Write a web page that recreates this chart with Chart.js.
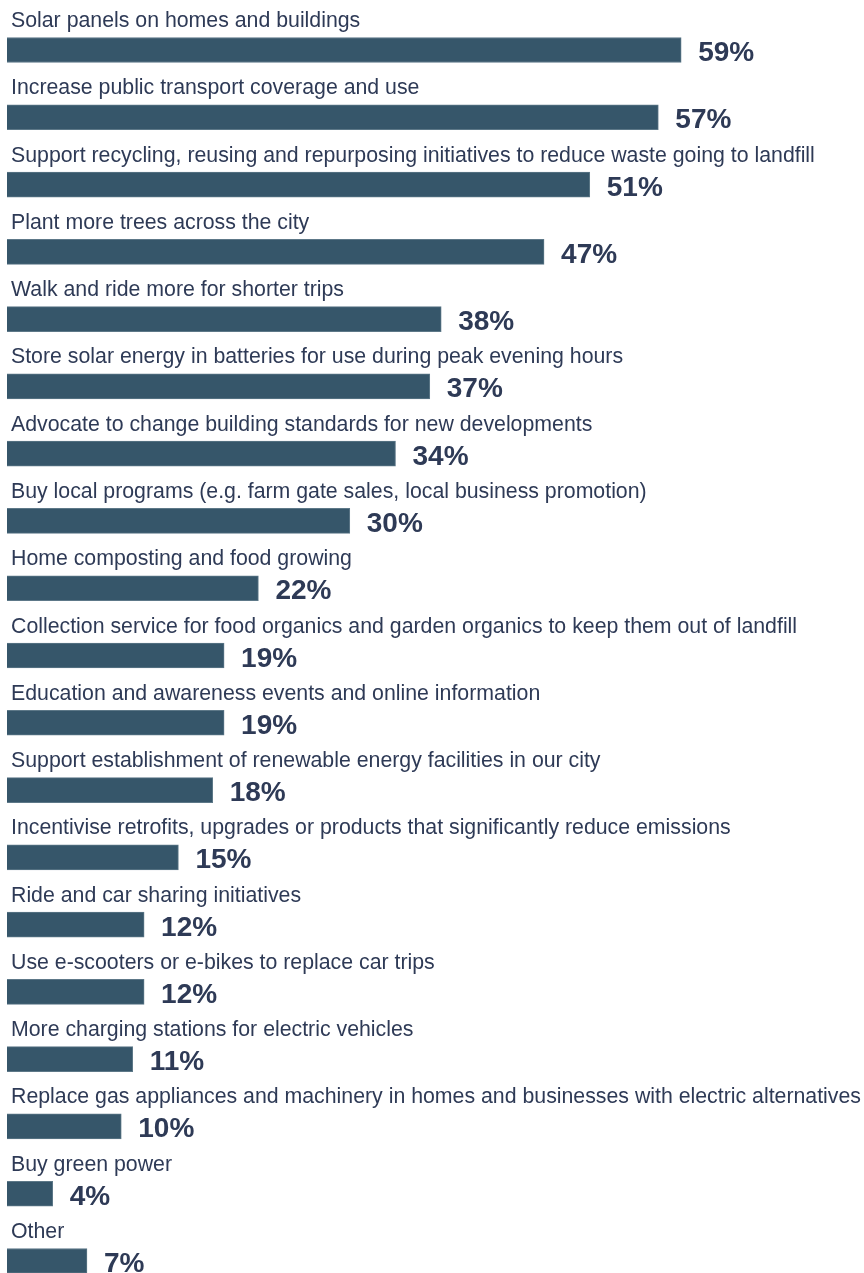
<!DOCTYPE html>
<html>
<head>
<meta charset="utf-8">
<script src="https://cdn.jsdelivr.net/npm/chart.js@4"></script>
<style>
  body { margin: 0; background: #ffffff; }
  #wrap { width: 864px; height: 1273px; position: relative; }
</style>
</head>
<body>
<div id="wrap"><canvas id="chart"></canvas></div>
<script>
"use strict";

// chart data
const categories = [
  "Solar panels on homes and buildings",
  "Increase public transport coverage and use",
  "Support recycling, reusing and repurposing initiatives to reduce waste going to landfill",
  "Plant more trees across the city",
  "Walk and ride more for shorter trips",
  "Store solar energy in batteries for use during peak evening hours",
  "Advocate to change building standards for new developments",
  "Buy local programs (e.g. farm gate sales, local business promotion)",
  "Home composting and food growing",
  "Collection service for food organics and garden organics to keep them out of landfill",
  "Education and awareness events and online information",
  "Support establishment of renewable energy facilities in our city",
  "Incentivise retrofits, upgrades or products that significantly reduce emissions",
  "Ride and car sharing initiatives",
  "Use e-scooters or e-bikes to replace car trips",
  "More charging stations for electric vehicles",
  "Replace gas appliances and machinery in homes and businesses with electric alternatives",
  "Buy green power",
  "Other"
];
const percentValues = [59, 57, 51, 47, 38, 37, 34, 30, 22, 19, 19, 18, 15, 12, 12, 11, 10, 4, 7];

const textColor = "#2e3a56";
const barColor = "#36566a";

// draws the category text above each bar and the value to the right of it
const labelPlugin = {
  id: "rowLabels",
  afterDatasetsDraw(chart) {
    const ctx = chart.ctx;
    const meta = chart.getDatasetMeta(0);
    const left = chart.chartArea.left;
    ctx.save();
    ctx.fillStyle = textColor;
    ctx.textAlign = "left";
    ctx.textBaseline = "alphabetic";
    for (let i = 0; i < meta.data.length; i++) {
      const bar = meta.data[i];
      ctx.font = "21.3px 'Liberation Sans', Arial, sans-serif";
      ctx.fillText(categories[i], left + 4, bar.y - 23);
      ctx.font = "bold 28px 'Liberation Sans', Arial, sans-serif";
      ctx.fillText(percentValues[i] + "%", bar.x + 17, bar.y + 11);
    }
    ctx.restore();
  }
};

const config = {
  type: "bar",
  data: {
    labels: categories,
    datasets: [
      {
        data: percentValues,
        backgroundColor: barColor,
        borderColor: "#5d7888",
        borderWidth: 1,
        barThickness: 25,
        clip: false
      }
    ]
  },
  options: {
    indexAxis: "y",
    responsive: true,
    maintainAspectRatio: false,
    animation: false,
    layout: { padding: { top: 50, bottom: 12, left: 7, right: 0 } },
    scales: {
      x: { display: false, min: 0, max: 75 },
      y: { display: false, offset: false }
    },
    plugins: {
      legend: { display: false },
      tooltip: { enabled: false }
    }
  },
  plugins: [labelPlugin]
};

new Chart(document.getElementById("chart"), config);
</script>
</body>
</html>
